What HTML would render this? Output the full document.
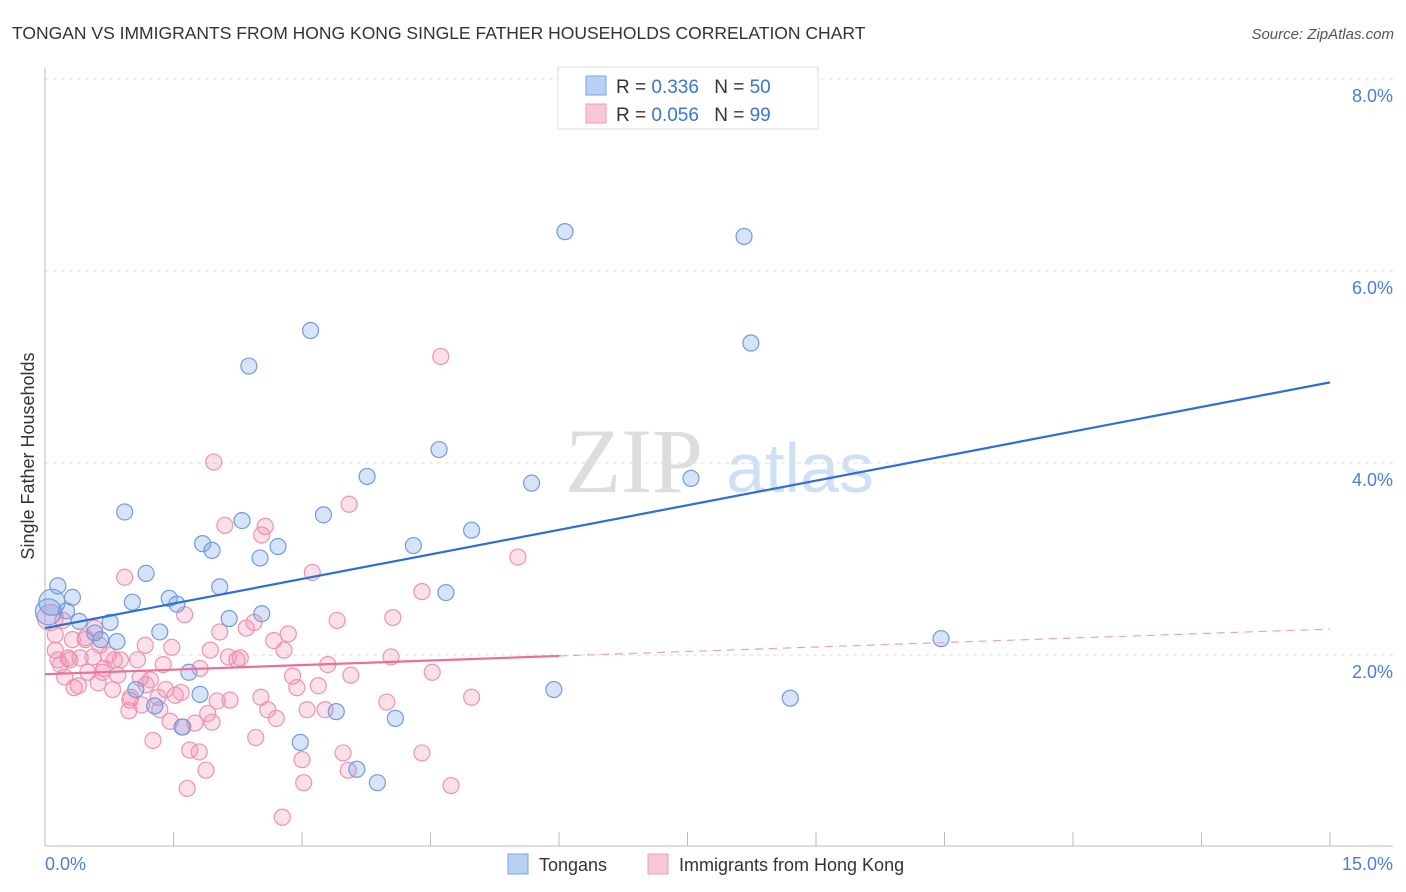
<!DOCTYPE html>
<html><head><meta charset="utf-8"><style>
body{margin:0;background:#fff;font-family:"Liberation Sans",sans-serif;}
</style></head><body>
<svg id="chart" width="1406" height="892" viewBox="0 0 1406 892" xmlns="http://www.w3.org/2000/svg" style="display:block">
<text x="12" y="39" font-size="17.5" fill="#333">TONGAN VS IMMIGRANTS FROM HONG KONG SINGLE FATHER HOUSEHOLDS CORRELATION CHART</text>
<text x="1394" y="39" font-size="15" fill="#555" font-style="italic" text-anchor="end">Source: ZipAtlas.com</text>
<g>
<text x="634" y="492" font-size="92" fill="#ddd" font-family="Liberation Serif,serif" text-anchor="middle">ZIP</text>
<text x="800" y="492" font-size="70" fill="#cfe0f4" text-anchor="middle">atlas</text>
</g>
<g id="grid"></g>
<g id="axes"></g>
<g id="pts"></g>
<g id="lines"></g>
<text transform="translate(34,456) rotate(-90)" font-size="18" fill="#333" text-anchor="middle">Single Father Households</text>
<text x="45" y="870" font-size="18" fill="#4a7fd6">0.0%</text>
<text x="1393" y="870" font-size="18" fill="#4a7fd6" text-anchor="end">15.0%</text>
<g>
<rect x="558" y="67" width="260" height="62" fill="#fff" stroke="#ddd"/>
<rect x="586" y="76" width="20" height="19" fill="#b9d0f5" stroke="#7aa5e8"/>
<rect x="586" y="104" width="20" height="19" fill="#f9c8d8" stroke="#ee9cb8"/>
<text x="616" y="93" font-size="19" fill="#333">R = <tspan fill="#3a74d4">0.336</tspan>  <tspan dx="10">N = </tspan><tspan fill="#3a74d4">50</tspan></text>
<text x="616" y="121" font-size="19" fill="#333">R = <tspan fill="#3a74d4">0.056</tspan>  <tspan dx="10">N = </tspan><tspan fill="#3a74d4">99</tspan></text>
</g>
<g>
<rect x="508" y="854" width="20" height="20" fill="#b9d0f5" stroke="#7aa5e8"/>
<text x="539" y="871" font-size="18" fill="#333">Tongans</text>
<rect x="648" y="854" width="20" height="20" fill="#f9c8d8" stroke="#ee9cb8"/>
<text x="679" y="871" font-size="18" fill="#333">Immigrants from Hong Kong</text>
</g>
</svg>
<script>
const yTicks=[2,4,6,8];
const yTickLabels=["2.0%","4.0%","6.0%","8.0%"];
const xTicks=[1.5,3,4.5,6,7.5,9,10.5,12,13.5,15];
const blueX=[6.07,8.16,3.10,8.24,2.38,4.60,3.76,5.68,7.54,0.93,3.25,2.30,4.98,1.84,1.95,2.72,4.30,2.51,1.18,0.15,2.04,0.32,4.68,1.45,1.02,1.54,0.25,0.04,2.53,2.15,0.40,0.76,1.34,0.58,0.65,0.84,10.46,1.68,1.06,5.94,1.81,8.70,1.28,3.40,4.09,1.60,2.98,3.64,3.88,0.08];
const blueY=[6.41,6.36,5.38,5.25,5.01,4.14,3.86,3.79,3.84,3.49,3.46,3.40,3.30,3.16,3.09,3.13,3.14,3.01,2.85,2.72,2.71,2.60,2.65,2.59,2.55,2.53,2.46,2.45,2.43,2.38,2.35,2.34,2.24,2.23,2.16,2.14,2.17,1.82,1.64,1.64,1.59,1.55,1.47,1.41,1.34,1.25,1.09,0.81,0.67,2.55];
const pinkX=[4.62,1.97,3.55,2.10,2.57,2.53,5.52,0.93,3.12,4.40,1.63,3.41,4.06,2.44,2.04,2.84,2.67,0.12,0.21,0.32,0.47,0.58,0.64,1.17,1.48,1.93,2.79,0.12,0.27,0.15,0.41,0.56,0.74,0.88,1.08,2.14,2.28,4.04,1.38,3.30,1.81,0.69,0.50,0.23,0.85,1.11,2.89,3.57,4.52,0.39,0.62,0.79,1.18,1.41,1.59,2.94,3.19,1.00,1.32,1.52,2.52,2.01,2.16,3.99,4.98,0.98,1.13,2.60,3.06,3.27,1.90,1.46,1.75,2.70,1.61,1.26,2.46,1.69,1.80,3.48,4.40,3.00,1.88,3.54,3.02,1.66,4.74,2.77,0.06,0.18,0.34,0.81,1.23,2.24,2.35,0.99,1.34,1.95,0.47,0.29,0.67];
const pinkY=[5.11,4.01,3.57,3.35,3.34,3.25,3.02,2.81,2.86,2.66,2.42,2.36,2.39,2.34,2.24,2.22,2.15,2.21,2.36,2.16,2.18,2.28,2.10,2.10,2.08,2.05,2.05,2.05,1.97,1.95,1.97,1.98,2.00,1.95,1.95,1.98,1.97,1.98,1.90,1.90,1.86,1.86,1.82,1.77,1.79,1.76,1.78,1.79,1.82,1.68,1.71,1.64,1.69,1.64,1.61,1.66,1.68,1.56,1.56,1.58,1.56,1.52,1.53,1.51,1.56,1.42,1.48,1.43,1.43,1.43,1.39,1.31,1.29,1.34,1.25,1.11,1.14,1.01,0.99,0.98,0.98,0.91,0.80,0.80,0.67,0.61,0.64,0.31,2.39,1.90,1.66,1.95,1.74,1.95,2.28,1.53,1.43,1.30,2.16,1.95,1.82];
const blueLine=[[0,2.28],[15,4.84]];
const pinkSolid=[[0,1.80],[6,1.99]];
const pinkDash=[[6,1.99],[15,2.27]];
const NS="http://www.w3.org/2000/svg";
const X=v=>45+v*(1285/15);
const Y=v=>847-v*96;
function mk(tag,attrs,parent){const e=document.createElementNS(NS,tag);for(const k in attrs)e.setAttribute(k,attrs[k]);parent.appendChild(e);return e;}
const grid=document.getElementById('grid'),axes=document.getElementById('axes'),pts=document.getElementById('pts'),lines=document.getElementById('lines');
yTicks.forEach((t,i)=>{
 const l=mk('line',{x1:45,x2:1393,y1:Y(t),y2:Y(t),stroke:'#ddd','stroke-dasharray':'4,4'},grid);
 
 
 const tx=mk('text',{x:1393,y:Y(t)+23,'font-size':18,fill:'#4a7fd6','text-anchor':'end'},axes);
 tx.textContent=yTickLabels[i];
 
 
});
mk('line',{x1:45,x2:1393,y1:Y(8)-0,y2:Y(8),stroke:'#ddd','stroke-dasharray':'4,4'},grid);
const ax=mk('line',{x1:45,x2:45,y1:68,y2:846,stroke:'#bbb'},axes);


const bx=mk('line',{x1:45,x2:1393,y1:846,y2:846,stroke:'#bbb'},axes);


xTicks.forEach(t=>{
 const l=mk('line',{x1:X(t),x2:X(t),y1:832,y2:846,stroke:'#bbb'},axes);
 
 
});
function pts_(xs,ys,fill,stroke,name){
 xs.forEach((x,i)=>{
  const big=(x<0.1);
  const c=mk('circle',{cx:X(x),cy:Y(ys[i]),r:big?13:8,fill:fill,stroke:stroke,'stroke-width':1.2},pts);
  
  
 });
}
pts_(pinkX,pinkY,'rgba(244,143,177,0.28)','#ee92b0','hong-kong-point');
pts_(blueX,blueY,'rgba(110,155,235,0.28)','#6f9be0','tongan-point');
function ln(p,stroke,w,dash,name){
 const a={x1:X(p[0][0]),y1:Y(p[0][1]),x2:X(p[1][0]),y2:Y(p[1][1]),stroke:stroke,'stroke-width':w};
 if(dash)a['stroke-dasharray']=dash;
 const l=mk('line',a,lines);
 
 
}
ln(blueLine,'#2d6fd6',2.2,null,'tongan-trend-line');
ln(pinkSolid,'#e8709a',2.2,null,'hong-kong-trend-line');
ln(pinkDash,'#eea0bb',1.2,'8,6','hong-kong-trend-extension');
</script>
</body></html>
